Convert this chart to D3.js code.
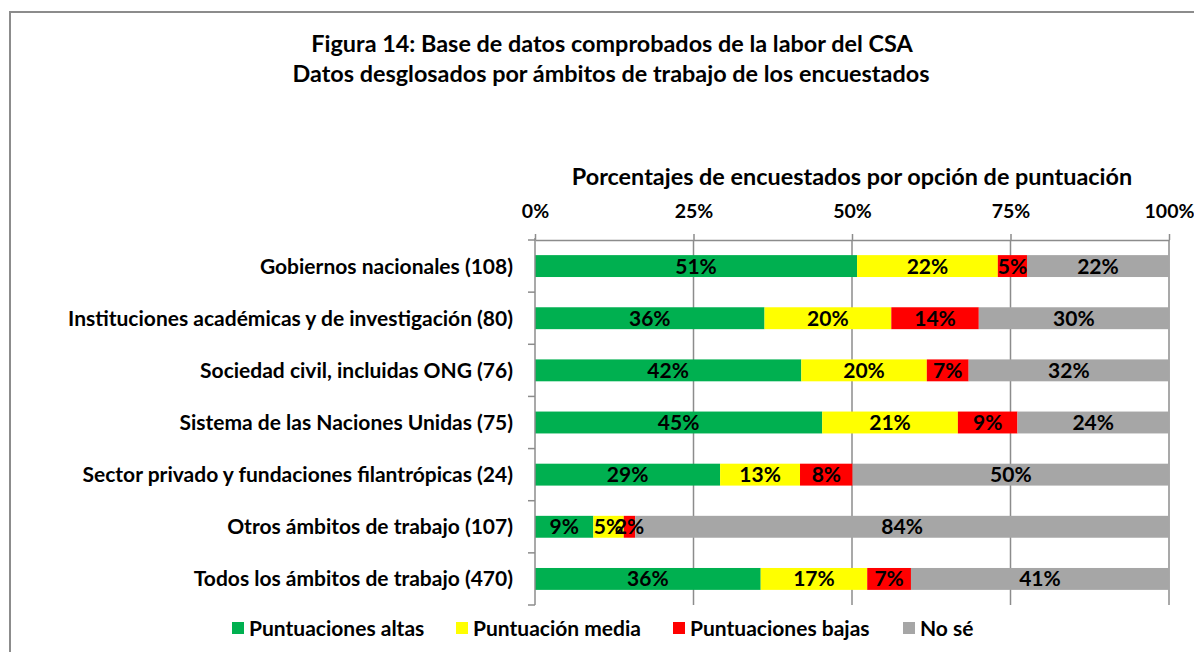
<!DOCTYPE html>
<html>
<head>
<meta charset="utf-8">
<script src="https://cdn.jsdelivr.net/npm/d3@7"></script>
<style>
  body { margin: 0; background: #fff; }
  svg { display: block; font-family: Lato, "Open Sans", sans-serif; font-weight: bold; }
</style>
</head>
<body>
<div id="svgcontainer"></div>
<script>
// categories (top to bottom) and percentage per rating option
const categories = [
  "Gobiernos nacionales (108)",
  "Instituciones académicas y de investigación (80)",
  "Sociedad civil, incluidas ONG (76)",
  "Sistema de las Naciones Unidas (75)",
  "Sector privado y fundaciones filantrópicas (24)",
  "Otros ámbitos de trabajo (107)",
  "Todos los ámbitos de trabajo (470)"
];
const altas = [50.8, 36.2, 42.0, 45.3, 29.2, 9.2, 35.6];
const media = [22.2, 20.0, 19.8, 21.4, 12.6, 4.8, 16.8];
const bajas = [4.6, 13.8, 6.6, 9.4, 8.3, 1.8, 6.9];
const nose = [22.4, 30.0, 31.6, 23.9, 49.9, 84.2, 40.7];

const seriesNames = ["Puntuaciones altas", "Puntuación media", "Puntuaciones bajas", "No sé"];
const seriesKeys = ["altas", "media", "bajas", "nose"];
const colors = ["#00b050", "#ffff00", "#ff0000", "#a6a6a6"];
const xTicks = [0, 25, 50, 75, 100];

const width = 1194, height = 652;
const margin = ({top: 240, right: 25, bottom: 47, left: 535});

const table = categories.map((c, i) => ({
  cat: c, altas: altas[i], media: media[i], bajas: bajas[i], nose: nose[i]
}));
const stacked = d3.stack().keys(seriesKeys)(table);

const svg = d3.select("#svgcontainer").append("svg")
  .attr("width", width).attr("height", height);

// outer frame (cut off at right and bottom, as in the picture)
svg.append("path")
  .attr("d", `M10,${height} L10,12 L${width},12`)
  .attr("fill", "none").attr("stroke", "#8c8c8c").attr("stroke-width", 2);

svg.append("text")
  .attr("x", 612).attr("y", 52).attr("text-anchor", "middle")
  .attr("font-size", 23.4)
  .text("Figura 14: Base de datos comprobados de la labor del CSA");
svg.append("text")
  .attr("x", 611).attr("y", 82).attr("text-anchor", "middle")
  .attr("font-size", 23.4)
  .text("Datos desglosados por ámbitos de trabajo de los encuestados");

const x = d3.scaleLinear().domain([0, 100]).range([margin.left, width - margin.right]);
const y = d3.scaleBand().domain(categories)
  .range([margin.top, height - margin.bottom])
  .paddingInner(0.58).paddingOuter(0.29);

svg.append("text")
  .attr("x", (x(0) + x(100)) / 2).attr("y", 185).attr("text-anchor", "middle")
  .attr("font-size", 23.4)
  .text("Porcentajes de encuestados por opción de puntuación");

// gridlines
svg.append("g")
  .selectAll("line")
  .data(xTicks.slice(1))
  .join("line")
    .attr("x1", d => x(d)).attr("x2", d => x(d))
    .attr("y1", margin.top).attr("y2", height - margin.bottom)
    .attr("stroke", "#8c8c8c").attr("stroke-width", 1.5);

// top axis
svg.append("g")
  .attr("transform", `translate(0,${margin.top})`)
  .call(d3.axisTop(x).tickValues(xTicks).tickFormat(d => d + "%").tickSize(6).tickSizeOuter(0).tickPadding(16))
  .call(g => g.selectAll("line, path").attr("stroke", "#8c8c8c").attr("stroke-width", 1.5))
  .call(g => g.selectAll("text").attr("font-size", 19.5).attr("font-family", "Lato").attr("font-weight", "bold").attr("fill", "#000"));

// bars
const layer = svg.append("g")
  .selectAll("g")
  .data(stacked)
  .join("g")
    .attr("fill", (d, i) => colors[i]);

layer.selectAll("rect")
  .data(d => d)
  .join("rect")
    .attr("x", d => x(d[0]))
    .attr("y", d => y(d.data.cat))
    .attr("width", d => x(d[1]) - x(d[0]))
    .attr("height", y.bandwidth());

const fmt = d3.format(".0f");
svg.append("g")
  .selectAll("g")
  .data(stacked)
  .join("g")
  .selectAll("text")
  .data(d => d)
  .join("text")
    .attr("x", d => (x(d[0]) + x(d[1])) / 2)
    .attr("y", d => y(d.data.cat) + y.bandwidth() / 2)
    .attr("dy", "0.36em")
    .attr("text-anchor", "middle")
    .attr("font-size", 21)
    .text(d => fmt(d[1] - d[0]) + "%");

// left category axis
const yAxisG = svg.append("g").attr("transform", `translate(${margin.left},0)`);
yAxisG.append("line")
  .attr("x1", 0).attr("x2", 0)
  .attr("y1", margin.top - 2).attr("y2", height - margin.bottom)
  .attr("stroke", "#8c8c8c").attr("stroke-width", 1.5);
const bounds = d3.range(categories.length + 1).map(i => margin.top + i * y.step());
yAxisG.selectAll(".tk")
  .data(bounds)
  .join("line")
    .attr("x1", -7).attr("x2", 0)
    .attr("y1", d => d).attr("y2", d => d)
    .attr("stroke", "#8c8c8c").attr("stroke-width", 1.5);
yAxisG.selectAll("text")
  .data(categories)
  .join("text")
    .attr("x", -22)
    .attr("y", d => y(d) + y.bandwidth() / 2)
    .attr("dy", "0.36em")
    .attr("text-anchor", "end")
    .attr("font-size", 21)
    .text(d => d);

// legend
const legendX = [232, 456, 673, 903];
const legend = svg.append("g")
  .selectAll("g")
  .data(seriesNames)
  .join("g")
    .attr("transform", (d, i) => `translate(${legendX[i]},628)`);
legend.append("rect")
  .attr("x", 0).attr("y", -6).attr("width", 12).attr("height", 12)
  .attr("fill", (d, i) => colors[i]);
legend.append("text")
  .attr("x", 17).attr("dy", "0.36em")
  .attr("font-size", 21)
  .text(d => d);
</script>
</body>
</html>
